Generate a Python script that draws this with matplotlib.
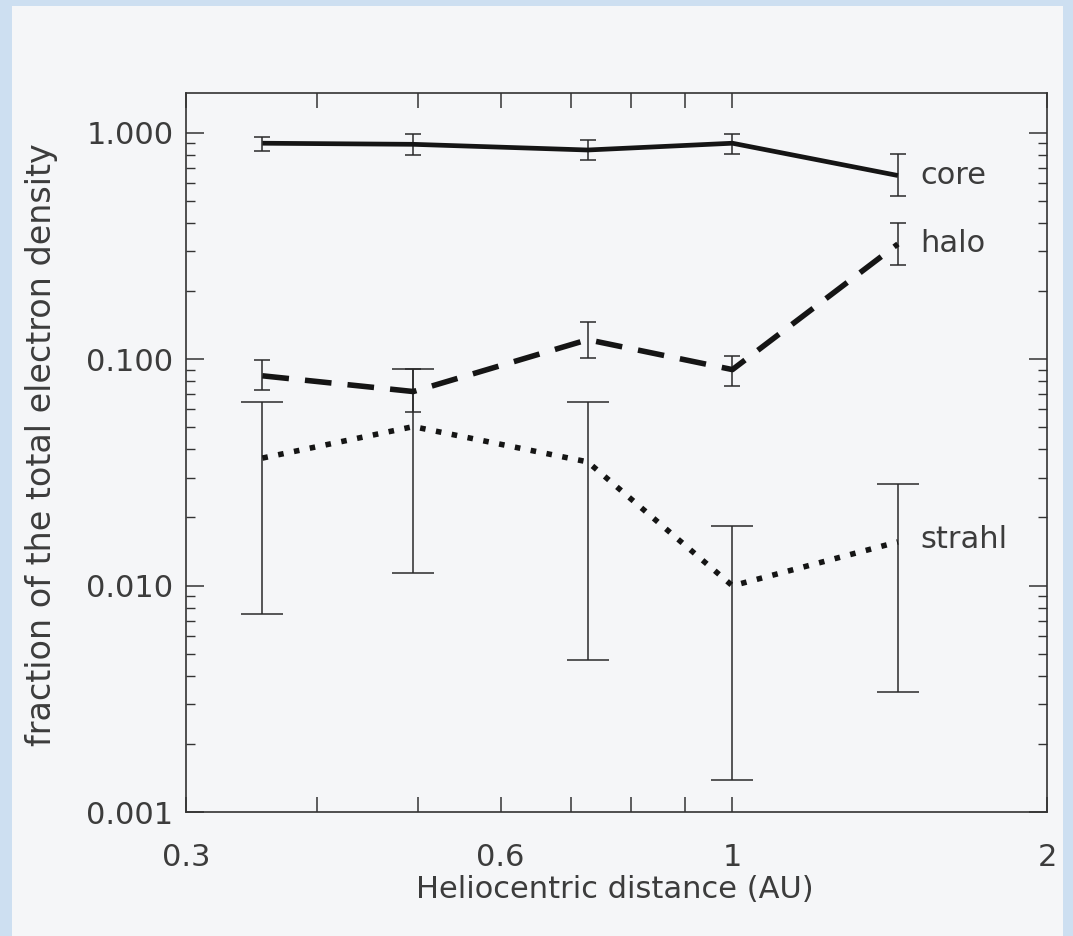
import matplotlib
matplotlib.use("Agg")
import matplotlib.pyplot as plt
from matplotlib.patches import Rectangle
from matplotlib.ticker import FixedLocator, NullFormatter
import numpy as np

# ---- data ----
distance = [0.355, 0.495, 0.727, 1.0, 1.44]

core = [0.90, 0.89, 0.84, 0.90, 0.648]
core_lo = [0.834, 0.80, 0.76, 0.81, 0.524]
core_hi = [0.96, 0.99, 0.93, 0.99, 0.81]

halo = [0.0845, 0.072, 0.122, 0.090, 0.323]
halo_lo = [0.073, 0.0587, 0.101, 0.076, 0.261]
halo_hi = [0.0994, 0.091, 0.146, 0.103, 0.40]

strahl = [0.0366, 0.0504, 0.0352, 0.00998, 0.0156]
strahl_lo = [0.00748, 0.0114, 0.0047, 0.00138, 0.0034]
strahl_hi = [0.065, 0.0907, 0.065, 0.0184, 0.0281]

x_ticks = [0.3, 0.4, 0.5, 0.6, 0.7, 0.8, 0.9, 1.0, 2.0]
x_ticklabels = ["0.3", "", "", "0.6", "", "", "", "1", "2"]
y_ticks = [0.001, 0.01, 0.1, 1.0]
y_ticklabels = ["0.001", "0.010", "0.100", "1.000"]
series_names = ["core", "halo", "strahl"]

# ---- figure ----
W, H = 1073, 936
fig = plt.figure(figsize=(W / 100, H / 100), dpi=100)
fig.patch.set_facecolor("#cddff1")
panel = Rectangle((12 / W, 0), (1063 - 12) / W, (936 - 6) / H,
                  transform=fig.transFigure, facecolor="#f5f6f8",
                  edgecolor="none", zorder=-5)
fig.add_artist(panel)

ax = fig.add_axes([186 / W, 1 - 812 / H, (1047 - 186) / W, (812 - 93) / H])
ax.set_zorder(2)
ax.set_facecolor("#f5f6f8")
ax.set_xscale("log")
ax.set_yscale("log")
ax.set_xlim(0.3, 2.0)
ax.set_ylim(0.001, 1.5)

txt = "#3c3c3c"
ink = "#151515"

def errs(v, lo, hi):
    v = np.asarray(v); lo = np.asarray(lo); hi = np.asarray(hi)
    return np.vstack([v - lo, hi - v])

# error bars
ax.errorbar(distance, core, yerr=errs(core, core_lo, core_hi), fmt="none",
            ecolor="#2a2a2a", elinewidth=1.1, capsize=6, capthick=1.1, zorder=3)
ax.errorbar(distance, halo, yerr=errs(halo, halo_lo, halo_hi), fmt="none",
            ecolor="#2a2a2a", elinewidth=1.1, capsize=6, capthick=1.1, zorder=3)
ax.errorbar(distance, strahl, yerr=errs(strahl, strahl_lo, strahl_hi), fmt="none",
            ecolor="#2a2a2a", elinewidth=1.1, capsize=15, capthick=1.1, zorder=3)

# lines
ax.plot(distance, core, color=ink, lw=3.4, solid_capstyle="butt", zorder=4)
ln_h, = ax.plot(distance, halo, color=ink, lw=4.0, zorder=4)
ln_h.set_dashes((4.8, 2.9))
ln_h.set_dash_capstyle("butt")
ln_s, = ax.plot(distance, strahl, color=ink, lw=4.0, zorder=4)
ln_s.set_dashes((1, 1.9))
ln_s.set_dash_capstyle("butt")

# series labels
for name, vals, dy in zip(series_names, [core, halo, strahl], [0, 0, 2]):
    ax.annotate(name, xy=(distance[-1], vals[-1]), xytext=(16, dy),
                textcoords="offset points", ha="left", va="center",
                fontsize=22, color=txt, zorder=5)

# axes styling
for s in ax.spines.values():
    s.set_color("#333333")
    s.set_linewidth(1.2)

ax.xaxis.set_major_locator(FixedLocator(x_ticks))
ax.set_xticklabels(x_ticklabels)
ax.xaxis.set_minor_locator(FixedLocator([]))
ax.yaxis.set_major_locator(FixedLocator(y_ticks))
ax.set_yticklabels(y_ticklabels)
minor_y = [m * 10.0 ** e for e in (-3, -2, -1, 0) for m in range(2, 10)]
ax.yaxis.set_minor_locator(FixedLocator(minor_y))
ax.yaxis.set_minor_formatter(NullFormatter())

ax.tick_params(axis="x", which="major", direction="in", length=11, width=1.1,
               color="#333333", top=True, bottom=True, labelsize=22,
               labelcolor=txt, pad=22)
ax.tick_params(axis="y", which="major", direction="in", length=13, width=1.1,
               color="#333333", left=True, right=True, labelsize=22,
               labelcolor=txt, pad=9)
ax.tick_params(axis="y", which="minor", direction="in", length=6.5, width=1.0,
               color="#333333", left=True, right=True)

fig.text(615 / W, 1 - 890 / H, "Heliocentric distance (AU)", ha="center",
         va="center", fontsize=22, color=txt)
fig.text(42 / W, 1 - 445 / H, "fraction of the total electron density",
         ha="center", va="center", rotation=90, fontsize=24, color=txt)

fig.savefig("out.png", dpi=100, facecolor=fig.get_facecolor())
